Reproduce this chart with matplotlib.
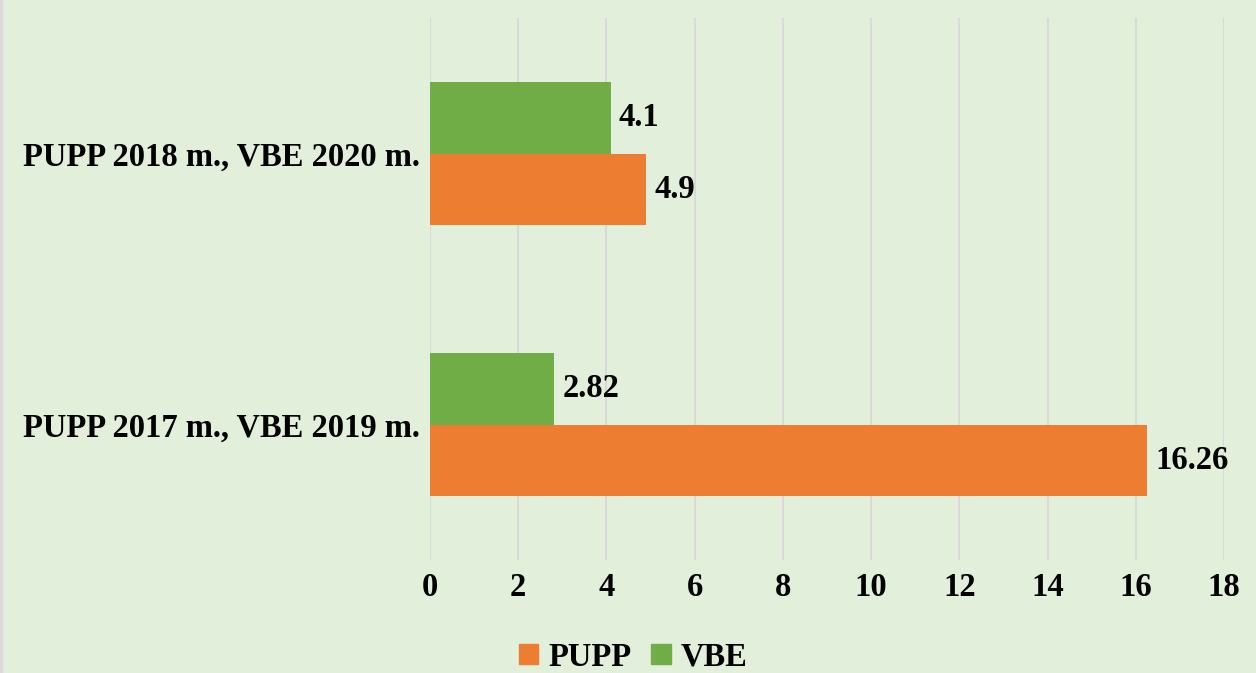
import matplotlib
matplotlib.use("Agg")
import matplotlib.pyplot as plt
import numpy as np
from matplotlib.patches import Rectangle

categories = ["PUPP 2017 m., VBE 2019 m.", "PUPP 2018 m., VBE 2020 m."]
pupp = [16.26, 4.9]
vbe = [2.82, 4.1]
pupp_labels = ["16.26", "4.9"]
vbe_labels = ["2.82", "4.1"]
xticks = [0, 2, 4, 6, 8, 10, 12, 14, 16, 18]

bg = "#E2EFDA"
orange = "#ED7D31"
green = "#70AD47"
font = "Liberation Serif"
fs = 23.5

fig = plt.figure(figsize=(12.56, 6.73), dpi=100, facecolor=bg)
ax = fig.add_axes([430/1256, 1-560/673, (1224-430)/1256, (560-18)/673])
ax.set_facecolor(bg)

y = np.arange(len(categories))
h = 0.262
b1 = ax.barh(y - h/2, pupp, height=h, color=orange, zorder=3)
b2 = ax.barh(y + h/2, vbe, height=h, color=green, zorder=3)

for bars, labs in ((b1, pupp_labels), (b2, vbe_labels)):
    for r, t in zip(bars, labs):
        ax.text(r.get_width() + 0.18, r.get_y() + r.get_height()/2, t,
                va="center", ha="left", fontsize=fs, fontweight="bold",
                family=font, color="black", zorder=4)

ax.set_xlim(0, 18)
ax.set_ylim(-0.5, 1.5)
ax.set_xticks(xticks)
ax.set_xticklabels([str(v) for v in xticks], fontsize=fs, fontweight="bold", family=font)
ax.set_yticks(y)
ax.set_yticklabels(categories, fontsize=fs, fontweight="bold", family=font)
ax.tick_params(axis="both", length=0, pad=7)
ax.tick_params(axis="x", pad=9)
ax.grid(axis="x", color="#D9D9D9", linewidth=1.5, zorder=0)
for s in ax.spines.values():
    s.set_visible(False)

handles = [Rectangle((0, 0), 1, 1, color=orange), Rectangle((0, 0), 1, 1, color=green)]
leg = fig.legend(handles, ["PUPP", "VBE"], loc="center", bbox_to_anchor=(0.504, 1-657/673),
                 ncol=2, frameon=False, handlelength=0.6, handleheight=0.6,
                 handletextpad=0.3, columnspacing=0.6,
                 prop={"family": font, "weight": "bold", "size": fs})

fig.patches.append(Rectangle((0, 0), 2/1256, 1, transform=fig.transFigure, color="#D9D9D9"))
fig.savefig("out.png", dpi=100, facecolor=bg)
